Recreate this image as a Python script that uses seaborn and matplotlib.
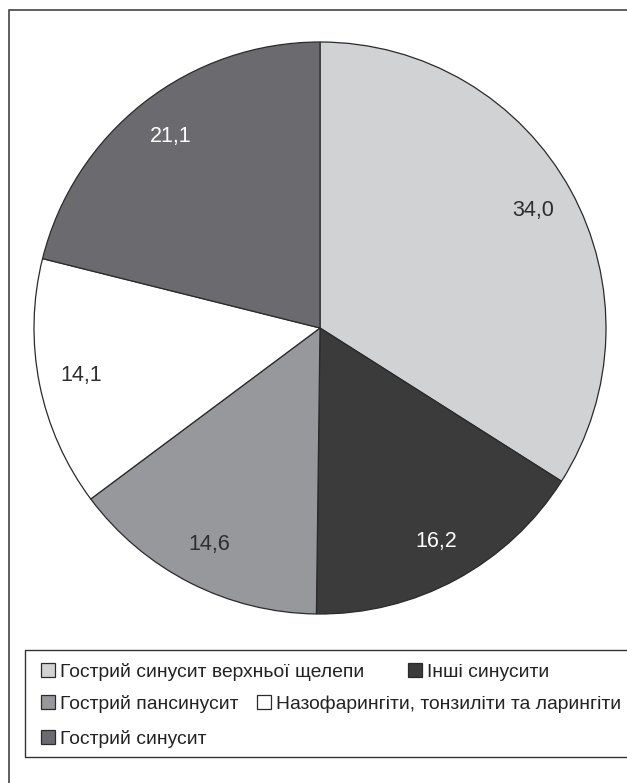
import matplotlib
matplotlib.use("Agg")
import matplotlib.pyplot as plt
from matplotlib.patches import Rectangle
import numpy as np
import seaborn as sns

# Share of diagnoses, %
categories = [
    "Гострий синусит верхньої щелепи",
    "Інші синусити",
    "Гострий пансинусит",
    "Назофарингіти, тонзиліти та ларингіти",
    "Гострий синусит",
]
values = [34.0, 16.2, 14.6, 14.1, 21.1]
slice_colors = ["#d1d2d4", "#3b3b3c", "#97989b", "#ffffff", "#6b6b6f"]
label_colors = ["#2e2e2e", "#ffffff", "#2e2e2e", "#2e2e2e", "#ffffff"]

sns.set_theme(style="white")
plt.rcParams["font.family"] = ["Liberation Sans", "DejaVu Sans"]

W, H = 627, 783
fig = plt.figure(figsize=(W / 100, H / 100), dpi=100)
fig.patch.set_facecolor("white")

# outer frame (runs off the right and bottom edges)
fig.patches.append(Rectangle((9 / W, -0.05), 1.2, 1 - 10 / H + 0.05,
                             transform=fig.transFigure, fill=False,
                             edgecolor="#333333", linewidth=1.1))

# pie: radius 286 px centred at (320, 328)
cx, cy, r = 320, 328, 286
ax = fig.add_axes([(cx - r) / W, (H - cy - r) / H, 2 * r / W, 2 * r / H])
wedges, _ = ax.pie(values, colors=slice_colors, startangle=90, counterclock=False,
                   radius=1.0,
                   wedgeprops=dict(edgecolor="#2a2a2a", linewidth=0.9))
ax.set_xlim(-1, 1)
ax.set_ylim(-1, 1)
ax.set_aspect("equal")
ax.axis("off")

for w, v, tc in zip(wedges, values, label_colors):
    mid = np.deg2rad((w.theta1 + w.theta2) / 2)
    d = 0.85
    ax.text(d * np.cos(mid), d * np.sin(mid), f"{v:.1f}".replace(".", ","),
            ha="center", va="center", fontsize=15.5, color=tc,
            family=["Liberation Sans", "DejaVu Sans"])

# legend box
fig.patches.append(Rectangle((25 / W, 1 - 757 / H), 1.2, (757 - 650) / H,
                             transform=fig.transFigure, fill=False,
                             edgecolor="#333333", linewidth=1.0))

legend_font = {"family": ["Liberation Sans Narrow", "Liberation Sans", "DejaVu Sans"],
               "size": 13.9}
legend_pos = [(41, 672), (408, 672), (41, 704), (257, 704), (41, 739)]
for w, name, (lx, ly) in zip(wedges, categories, legend_pos):
    fig.legend([w], [name], loc="center left",
               bbox_to_anchor=(lx / W, 1 - ly / H),
               bbox_transform=fig.transFigure, frameon=False,
               prop=legend_font, handlelength=0.75, handleheight=0.75,
               handletextpad=0.25, borderpad=0, borderaxespad=0,
               labelcolor="#222222")

fig.savefig("out.png", dpi=100, facecolor="white")
